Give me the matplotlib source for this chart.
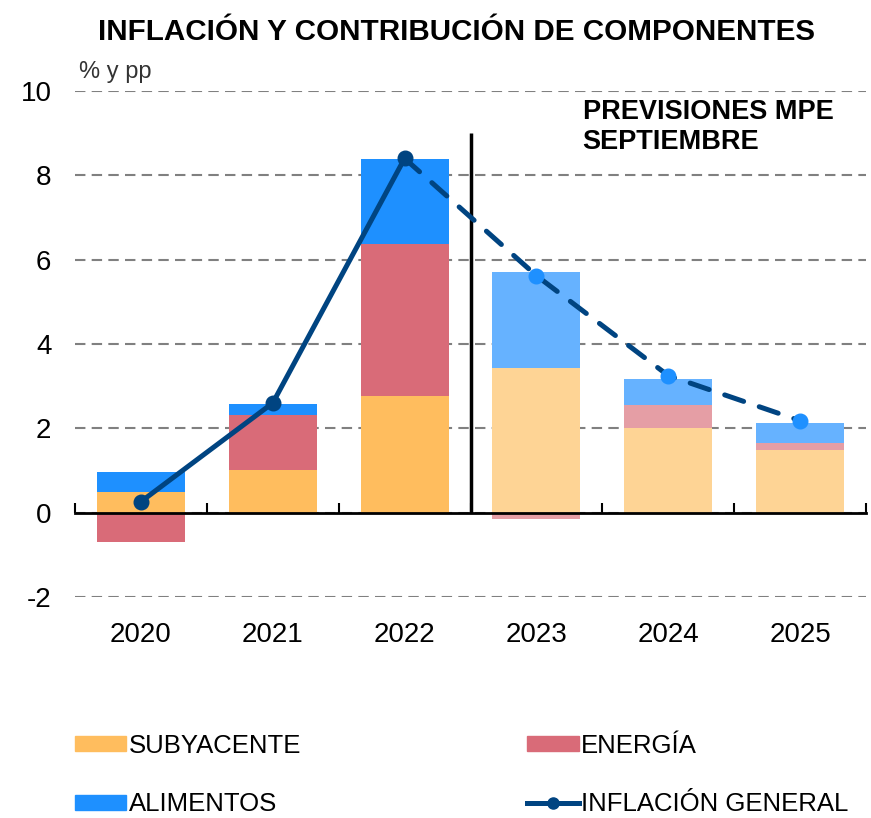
import numpy as np
import matplotlib
matplotlib.use('Agg')
import matplotlib.pyplot as plt
from matplotlib.patches import Patch
from matplotlib.lines import Line2D
from matplotlib import transforms

plt.rcParams['font.family'] = ['Liberation Sans', 'DejaVu Sans']

# datos (% y pp)
years = ['2020', '2021', '2022', '2023', '2024', '2025']
subyacente = [0.50, 1.00, 2.77, 3.44, 2.01, 1.49]
energia = [-0.70, 1.32, 3.60, -0.15, 0.55, 0.17]
alimentos = [0.47, 0.26, 2.02, 2.27, 0.62, 0.47]
inflacion = [0.26, 2.60, 8.40, 5.62, 3.25, 2.18]
n_hist = 3  # 2020-2022 observado, resto previsiones

# colores
c_sub = ['#FFBD5E'] * n_hist + ['#FED495'] * 3
c_ene = ['#D96B78'] * n_hist + ['#E59EA5'] * 3
c_ali = ['#1E90FF'] * n_hist + ['#66B2FF'] * 3
navy = '#004481'

fig = plt.figure(figsize=(8.71, 8.18), dpi=100)
ax = fig.add_axes([0.0861, 0.2702, 0.9082, 0.6186])

x = np.arange(len(years))
sub = np.array(subyacente)
ene = np.array(energia)
ali = np.array(alimentos)

# apilado: positivos y negativos por separado
pos_base = np.zeros(len(x))
neg_base = np.zeros(len(x))
w = 0.667
for vals, cols in [(sub, c_sub), (ene, c_ene), (ali, c_ali)]:
    bottoms = np.where(vals >= 0, pos_base, neg_base)
    ax.bar(x, vals, width=w, bottom=bottoms, color=cols, zorder=2, linewidth=0)
    pos_base = pos_base + np.where(vals >= 0, vals, 0)
    neg_base = neg_base + np.where(vals < 0, vals, 0)

# linea de inflación
infl = np.array(inflacion)
ax.plot(x[:n_hist], infl[:n_hist], color=navy, lw=3.6, marker='o', ms=10.5,
        solid_capstyle='round', zorder=4)
ax.plot(x[n_hist - 1:], infl[n_hist - 1:], color=navy, lw=3.6,
        linestyle=(0, (4, 3.3)), dash_capstyle='round', zorder=4)
ax.plot(x[n_hist:], infl[n_hist:], linestyle='none', marker='o', ms=10.5,
        color='#1E90FF', zorder=5)

# separador previsiones
ax.vlines(n_hist - 0.5, 0, 9.0, color='black', lw=2.5, zorder=3)
ax.text(3.35, 9.8, 'PREVISIONES MPE\nSEPTIEMBRE', fontsize=19.5, fontweight='bold',
        va='top', ha='left', linespacing=1.17)

# ejes
ax.set_xlim(-0.5, 5.5)
ax.set_ylim(-2, 10)
ax.set_yticks(np.arange(-2, 11, 2))
ax.set_yticklabels([str(v) for v in range(-2, 11, 2)], fontsize=20)
ax.tick_params(axis='y', length=0, pad=17)
ax.yaxis.grid(True, linestyle=(0, (5, 3)), color='#808080', lw=1.5, zorder=0)
ax.set_axisbelow(True)
for s in ['left', 'right', 'top']:
    ax.spines[s].set_visible(False)
ax.spines['bottom'].set_position(('data', 0))
ax.spines['bottom'].set_linewidth(2)
ax.spines['bottom'].set_zorder(3)
ax.set_xticks(np.arange(-0.5, 6, 1))
ax.set_xticklabels([])
ax.tick_params(axis='x', direction='in', length=7, width=1.5)

trans = transforms.blended_transform_factory(ax.transData, ax.transAxes)
for i, y in enumerate(years):
    ax.text(i, -0.05, y, transform=trans, ha='center', va='top', fontsize=20)

ax.text(-0.47, 10.2, '% y pp', fontsize=17, color='#333333', va='bottom')

fig.text(0.524, 0.978, 'INFLACIÓN Y CONTRIBUCIÓN DE COMPONENTES', ha='center',
         va='top', fontsize=21.3, fontweight='bold')

handles = [Patch(color='#FFBD5E'), Patch(color='#1E90FF'), Patch(color='#D96B78'),
           Line2D([], [], color=navy, lw=3.6, marker='o', ms=8)]
labels = ['SUBYACENTE', 'ALIMENTOS', 'ENERGÍA', 'INFLACIÓN GENERAL']
fig.legend(handles, labels, ncol=2, loc='upper left', bbox_to_anchor=(0.086, 0.103),
           frameon=False, fontsize=18.5, handlelength=2.0, handleheight=0.55,
           handletextpad=0.1, columnspacing=8.8, labelspacing=1.35,
           borderaxespad=0, borderpad=0)

fig.savefig('out.png', dpi=100)
